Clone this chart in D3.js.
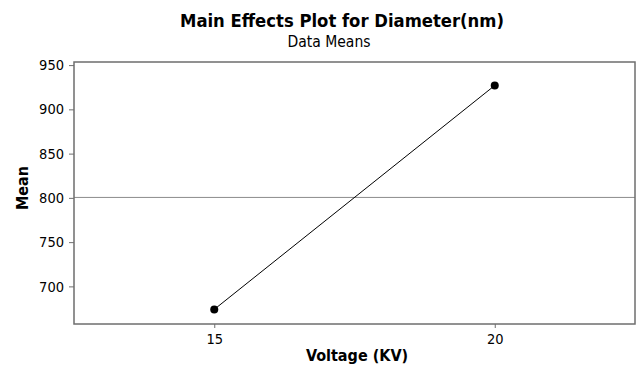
<!DOCTYPE html>
<html>
<head>
<meta charset="utf-8">
<script src="https://cdn.jsdelivr.net/npm/d3@7"></script>
<style>
  html, body { margin: 0; padding: 0; background: #fff; }
  svg { display: block; }
  text { font-family: "DejaVu Sans Condensed", "DejaVu Sans", sans-serif; fill: #000; }
</style>
</head>
<body>
<svg id="chart" width="637" height="369"></svg>
<script>
// Factor levels and the mean diameter at each level
const levels = ["15", "20"];
const means = [674, 927];
const yTicks = [700, 750, 800, 850, 900, 950];
const yDomain = [657.5, 953.5];

const W = 637, H = 369;
const frame = { left: 74, top: 62, right: 635, bottom: 324 };

const svg = d3.select("#chart");

const x = d3.scalePoint().domain(levels).range([frame.left, frame.right]).padding(0.5);
const y = d3.scaleLinear().domain(yDomain).range([frame.bottom, frame.top]);

const grandMean = d3.mean(means);

// Titles
svg.append("text")
  .attr("x", 342).attr("y", 27)
  .attr("text-anchor", "middle")
  .style("font-weight", "bold").style("font-size", "18.3px")
  .text("Main Effects Plot for Diameter(nm)");
svg.append("text")
  .attr("x", 329).attr("y", 47)
  .attr("text-anchor", "middle")
  .style("font-size", "15.5px")
  .text("Data Means");

// Reference line at the grand mean
svg.append("line")
  .attr("x1", frame.left).attr("x2", frame.right)
  .attr("y1", y(grandMean)).attr("y2", y(grandMean))
  .attr("stroke", "#8c8c8c").attr("stroke-width", 1);

// Axes
const yAxis = d3.axisLeft(y).tickValues(yTicks).tickSize(5).tickPadding(5);
const gy = svg.append("g").attr("transform", `translate(${frame.left},0)`).call(yAxis);
const xAxis = d3.axisBottom(x).tickSize(4).tickPadding(6);
const gx = svg.append("g").attr("transform", `translate(0,${frame.bottom})`).call(xAxis);
[gx, gy].forEach(g => {
  g.attr("font-size", null).attr("font-family", null);
  g.select(".domain").remove();
  g.selectAll(".tick line").attr("stroke", "#6e6e6e").attr("stroke-width", 1);
  g.selectAll(".tick text").style("font-size", "14.5px").attr("fill", "#111");
});

// Plot frame
svg.append("rect")
  .attr("x", frame.left).attr("y", frame.top)
  .attr("width", frame.right - frame.left).attr("height", frame.bottom - frame.top)
  .attr("fill", "none").attr("stroke", "#6e6e6e").attr("stroke-width", 1.5);

// Means line and markers
const pts = levels.map((l, i) => [x(l), y(means[i])]);
svg.append("path")
  .attr("d", d3.line()(pts))
  .attr("fill", "none").attr("stroke", "#000").attr("stroke-width", 1);
svg.selectAll("circle.pt").data(pts).join("circle")
  .attr("class", "pt")
  .attr("cx", d => d[0]).attr("cy", d => d[1]).attr("r", 4)
  .attr("fill", "#000");

// Axis titles
svg.append("text")
  .attr("x", 357).attr("y", 361)
  .attr("text-anchor", "middle")
  .style("font-weight", "bold").style("font-size", "16px")
  .text("Voltage (KV)");
svg.append("text")
  .attr("transform", `translate(28,188) rotate(-90)`)
  .attr("text-anchor", "middle")
  .style("font-weight", "bold").style("font-size", "16px")
  .text("Mean");
</script>
</body>
</html>
